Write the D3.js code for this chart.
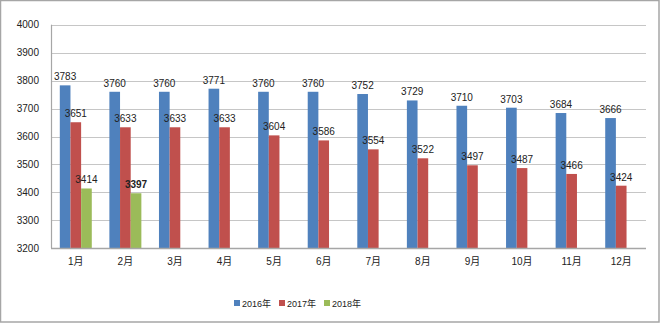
<!DOCTYPE html>
<html>
<head>
<meta charset="utf-8">
<script src="https://cdn.jsdelivr.net/npm/d3@7"></script>
<style>
  html, body { margin: 0; padding: 0; background: #fff; }
  svg text { font-family: "Liberation Sans", Arial, "Noto Sans CJK SC", sans-serif; fill: #222; }
</style>
</head>
<body>
<svg id="chart" width="660" height="323"></svg>
<script>
// Monthly values per year
const months = ["1月","2月","3月","4月","5月","6月","7月","8月","9月","10月","11月","12月"];
const seriesNames = ["2016年","2017年","2018年"];
const values2016 = [3783,3760,3760,3771,3760,3760,3752,3729,3710,3703,3684,3666];
const values2017 = [3651,3633,3633,3633,3604,3586,3554,3522,3497,3487,3466,3424];
const values2018 = [3414,3397];
const yTicks = [3200,3300,3400,3500,3600,3700,3800,3900,4000];
const colors = ["#4F81BD","#C0504D","#9BBB59"];

const allSeries = [values2016, values2017, values2018];

const svg = d3.select("#chart");
const W = 660, H = 323;
const m = { left: 51, right: 14, top: 24.7, bottom: 74.7 };

// outer frame
svg.append("rect").attr("x", 0.5).attr("y", 0.5).attr("width", W - 1.5).attr("height", H - 1.5)
  .attr("fill", "#fff").attr("stroke", "#a6a6a6").attr("stroke-width", 1.5);

const x0 = d3.scaleBand().domain(months).range([m.left, W - m.right]).paddingInner(0.355).paddingOuter(0.1775);
const x1 = d3.scaleBand().domain(d3.range(3)).range([0, x0.bandwidth()]);
const y = d3.scaleLinear().domain([3200, 4000]).range([H - m.bottom, m.top]);

// gridlines
svg.append("g").selectAll("line").data(yTicks.slice(1)).join("line")
  .attr("x1", m.left).attr("x2", W - m.right)
  .attr("y1", d => Math.round(y(d)) + 0.5).attr("y2", d => Math.round(y(d)) + 0.5)
  .attr("stroke", "#c6c6c6").attr("stroke-width", 1.2);

// y axis labels
const yAxis = d3.axisLeft(y).tickValues(yTicks).tickFormat(d3.format("d")).tickSize(0).tickPadding(12);
const gy = svg.append("g").attr("transform", `translate(${m.left},0)`).call(yAxis);
gy.select(".domain").remove();
gy.selectAll("text").attr("font-size", 10).style("font-family", "'Liberation Sans', Arial, sans-serif").attr("fill", "#222");

// bars
allSeries.forEach((vals, si) => {
  const g = svg.append("g");
  g.selectAll("rect").data(vals).join("rect")
    .attr("x", (d, i) => x0(months[i]) + x1(si))
    .attr("width", x1.bandwidth())
    .attr("y", d => y(d))
    .attr("height", d => y(3200) - y(d))
    .attr("fill", colors[si]);
  g.selectAll("text").data(vals).join("text")
    .attr("x", (d, i) => x0(months[i]) + x1(si) + x1.bandwidth() / 2)
    .attr("y", d => y(d) - 5)
    .attr("text-anchor", "middle")
    .attr("font-size", 10)
    .attr("font-weight", (d, i) => (si === 2 && i === 1) ? "bold" : "normal")
    .text(d => d);
});

// axis lines
svg.append("line").attr("x1", m.left + 0.5).attr("x2", m.left + 0.5)
  .attr("y1", m.top).attr("y2", y(3200)).attr("stroke", "#a6a6a6").attr("stroke-width", 1.2);
svg.append("line").attr("x1", m.left).attr("x2", W - m.right)
  .attr("y1", Math.round(y(3200)) + 0.5).attr("y2", Math.round(y(3200)) + 0.5)
  .attr("stroke", "#a6a6a6").attr("stroke-width", 1.4);

// x axis labels
const xAxis = d3.axisBottom(x0).tickSize(0).tickPadding(10);
const gx = svg.append("g").attr("transform", `translate(0,${y(3200)})`).call(xAxis);
gx.select(".domain").remove();
gx.selectAll("text").attr("font-size", 10).style("font-family", "'Liberation Sans', Arial, 'Noto Sans CJK SC', sans-serif").attr("fill", "#222");

// legend
const legendX = [234, 279, 324];
const lg = svg.append("g");
seriesNames.forEach((name, i) => {
  lg.append("rect").attr("x", legendX[i]).attr("y", 300).attr("width", 6).attr("height", 6).attr("fill", colors[i]);
  lg.append("text").attr("x", legendX[i] + 8).attr("y", 307).attr("font-size", 9).text(name);
});
</script>
</body>
</html>
